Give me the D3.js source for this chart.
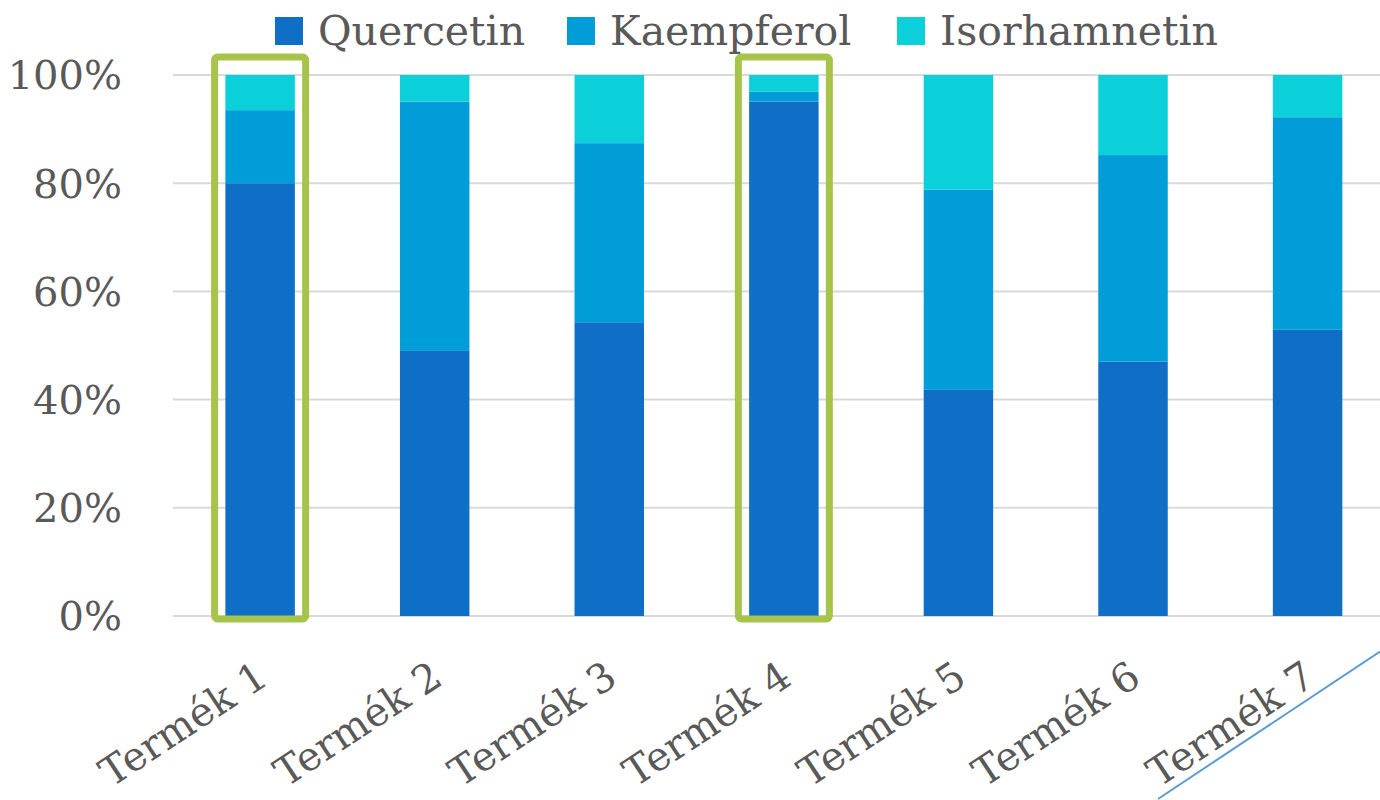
<!DOCTYPE html>
<html>
<head>
<meta charset="utf-8">
<script src="https://cdn.jsdelivr.net/npm/d3@7"></script>
<style>
  html, body { margin: 0; padding: 0; background: #fff; }
  svg { display: block; }
  text { font-family: "DejaVu Serif", "Liberation Serif", serif; fill: #595959; }
</style>
</head>
<body>
<svg id="chart"></svg>
<script>
const width = 1380;
const height = 800;

// data (percent of each product)
const categories = ['Termék 1', 'Termék 2', 'Termék 3', 'Termék 4', 'Termék 5', 'Termék 6', 'Termék 7'];
const seriesNames = ['Quercetin', 'Kaempferol', 'Isorhamnetin'];
const quercetin = [80, 49, 54.3, 95.1, 41.8, 47, 52.9];
const kaempferol = [13.5, 46.1, 33.1, 1.8, 37, 38.2, 39.3];
const isorhamnetin = [6.5, 4.9, 12.6, 3.1, 21.2, 14.8, 7.8];
const yTicks = [0, 0.2, 0.4, 0.6, 0.8, 1];
const highlighted = ['Termék 1', 'Termék 4'];

const colors = ['#0F6FC6', '#009DD9', '#0BD0D9'];

const svg = d3.select('#chart')
    .attr('width', width)
    .attr('height', height);

// rows for the stack, normalised to 100%
const rows = categories.map((c, i) => {
    const total = quercetin[i] + kaempferol[i] + isorhamnetin[i];
    return {
        cat: c,
        Quercetin: quercetin[i] / total,
        Kaempferol: kaempferol[i] / total,
        Isorhamnetin: isorhamnetin[i] / total
    };
});
const stacked = d3.stack().keys(seriesNames)(rows);

const x = d3.scaleBand()
    .domain(categories)
    .range([173, 1394.7])
    .paddingInner(0.602)
    .paddingOuter(0.3);

const y = d3.scaleLinear()
    .domain([0, 1])
    .range([616, 75]);

// gridlines
svg.append('g')
    .selectAll('line')
    .data(yTicks)
    .join('line')
    .attr('x1', 173)
    .attr('x2', width)
    .attr('y1', d => y(d))
    .attr('y2', d => y(d))
    .attr('stroke', '#D9D9D9')
    .attr('stroke-width', 2);

// y tick labels
svg.append('g')
    .selectAll('text')
    .data(yTicks)
    .join('text')
    .attr('x', 122)
    .attr('y', d => y(d))
    .attr('dy', '0.36em')
    .attr('text-anchor', 'end')
    .style('font-size', '40px')
    .text(d => d3.format('.0%')(d));

// stacked bars
svg.append('g')
    .selectAll('g')
    .data(stacked)
    .join('g')
    .attr('fill', (d, i) => colors[i])
    .selectAll('rect')
    .data(d => d)
    .join('rect')
    .attr('x', d => x(d.data.cat))
    .attr('y', d => y(d[1]))
    .attr('width', x.bandwidth())
    .attr('height', d => y(d[0]) - y(d[1]));

// green highlight boxes
svg.append('g')
    .selectAll('rect')
    .data(highlighted)
    .join('rect')
    .attr('x', d => x(d) + x.bandwidth() / 2 - 45.5)
    .attr('y', 57)
    .attr('width', 91)
    .attr('height', 562)
    .attr('rx', 3)
    .attr('fill', 'none')
    .attr('stroke', '#A6C34A')
    .attr('stroke-width', 7);

// x labels, rotated
svg.append('g')
    .selectAll('text')
    .data(categories)
    .join('text')
    .attr('text-anchor', 'end')
    .attr('transform', d => `translate(${x(d) + x.bandwidth() / 2 + 10},683) rotate(-33.5)`)
    .style('font-size', '40px')
    .text(d => d);

// legend
const legendX = [275, 567, 897];
const legend = svg.append('g')
    .selectAll('g')
    .data(seriesNames)
    .join('g')
    .attr('transform', (d, i) => `translate(${legendX[i]},0)`);

legend.append('rect')
    .attr('x', 0)
    .attr('y', 17)
    .attr('width', 28)
    .attr('height', 28)
    .attr('fill', (d, i) => colors[i]);

legend.append('text')
    .attr('x', 43)
    .attr('y', 45)
    .style('font-size', '41px')
    .text(d => d);

// thin blue line at the bottom right
svg.append('line')
    .attr('x1', 1158)
    .attr('y1', 799)
    .attr('x2', 1380)
    .attr('y2', 651.5)
    .attr('stroke', '#5B9BD5')
    .attr('stroke-width', 2);
</script>
</body>
</html>
